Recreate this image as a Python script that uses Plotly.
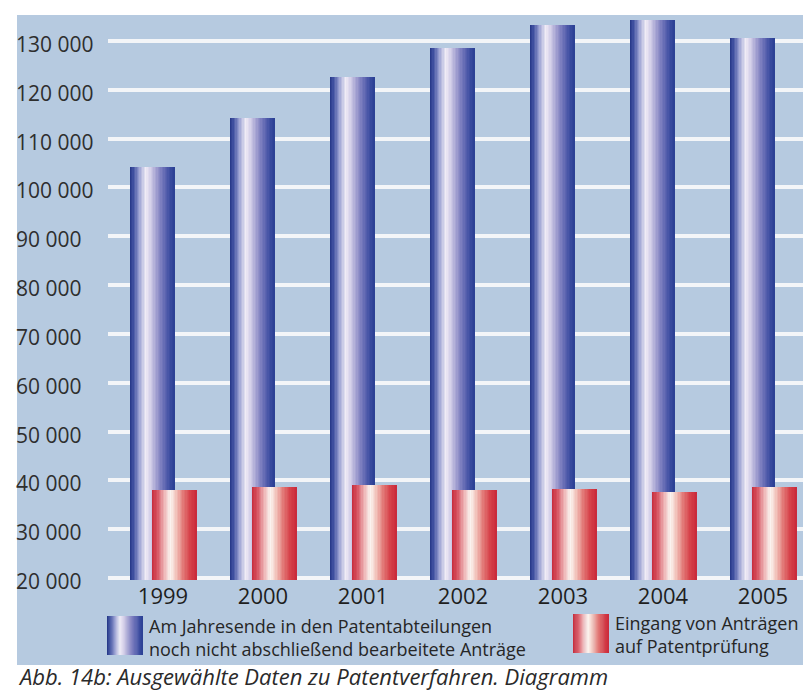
import plotly.graph_objects as go

# Data
years = [1999, 2000, 2001, 2002, 2003, 2004, 2005]
offene_antraege = [104100, 114300, 122700, 128500, 133300, 134300, 130700]
pruefungsantraege = [38000, 38600, 39000, 38000, 38200, 37600, 38700]
y_ticks = [20000, 30000, 40000, 50000, 60000, 70000, 80000, 90000,
           100000, 110000, 120000, 130000]
legend_labels = [
    "Am Jahresende in den Patentabteilungen<br>noch nicht abschließend bearbeitete Anträge",
    "Eingang von Anträgen<br>auf Patentprüfung",
]
caption = "Abb. 14b: Ausgewählte Daten zu Patentverfahren. Diagramm"

# Page geometry (pixels)
W, H = 803, 690
L, R, T, B = 108, 0, 15, 110
PW, PH = W - L - R, H - T - B

PANEL = "#b6cae0"
FONT = "Open Sans, Noto Sans, DejaVu Sans, sans-serif"

# Cylinder-style gradient stops (position, colour)
BLUE_STOPS = [(0.0, "#233585"), (0.08, "#3e4f9f"), (0.22, "#9ea4d4"),
              (0.36, "#f0ecf6"), (0.48, "#cfcae6"), (0.64, "#9190c8"),
              (0.80, "#5b63b0"), (0.93, "#34479c"), (1.0, "#2a3f93")]
RED_STOPS = [(0.0, "#c62b3a"), (0.12, "#d6505e"), (0.28, "#eeb4b6"),
             (0.42, "#fbf4f0"), (0.55, "#f2c3bb"), (0.70, "#e27a78"),
             (0.85, "#d7444b"), (1.0, "#c8283a")]


def hex_rgb(h):
    h = h.lstrip("#")
    return tuple(int(h[i:i + 2], 16) for i in (0, 2, 4))


def gradient(stops, t):
    for (p0, c0), (p1, c1) in zip(stops, stops[1:]):
        if p0 <= t <= p1:
            f = 0 if p1 == p0 else (t - p0) / (p1 - p0)
            a, b = hex_rgb(c0), hex_rgb(c1)
            r = [round(a[k] + (b[k] - a[k]) * f) for k in range(3)]
            return "rgb({},{},{})".format(*r)
    return stops[-1][1]


def px_x(p):
    return (p - L) / PW


def px_y(p):
    return (H - B - p) / PH


N = 32           # gradient slices per bar
BAR_W = 0.45     # bar width in category units
fig = go.Figure()


def add_cylinder(values, start, stops):
    step = BAR_W / N
    for i in range(N):
        t = (i + 0.5) / N
        w = step * 1.4 if i < N - 1 else step
        fig.add_trace(go.Bar(
            x=years, y=values, width=w, offset=start + i * step,
            marker=dict(color=gradient(stops, t), line=dict(width=0)),
            showlegend=False, hoverinfo="skip"))


add_cylinder(offene_antraege, -0.33, BLUE_STOPS)
add_cylinder(pruefungsantraege, -0.11, RED_STOPS)

shapes = [dict(type="rect", xref="paper", yref="paper", layer="below",
               x0=px_x(17), x1=px_x(W + 5), y0=px_y(665), y1=px_y(15),
               fillcolor=PANEL, line=dict(width=0))]


# Gradient legend swatches
def swatch(x0, y0, x1, y1, stops):
    step = (x1 - x0) / N
    for i in range(N):
        t = (i + 0.5) / N
        shapes.append(dict(type="rect", xref="paper", yref="paper", layer="above",
                           x0=px_x(x0 + i * step), x1=px_x(x0 + (i + 1.4) * step if i < N - 1 else x1),
                           y0=px_y(y1), y1=px_y(y0),
                           fillcolor=gradient(stops, t), line=dict(width=0)))


swatch(107, 616, 143, 655, BLUE_STOPS)
swatch(573, 614, 609, 653, RED_STOPS)

annotations = []
# Left-aligned value labels beside the grid lines
for v in y_ticks:
    annotations.append(dict(text=f"{v:,}".replace(",", " "), x=px_x(14), xref="paper",
                            y=v, yref="y", xanchor="left", yanchor="middle", yshift=-3,
                            showarrow=False, font=dict(family=FONT, size=21, color="#2e2e2e")))
annotations.append(dict(text=legend_labels[0], x=px_x(147), xref="paper", y=px_y(637),
                        yref="paper", xanchor="left", yanchor="middle", align="left",
                        showarrow=False, font=dict(family=FONT, size=18, color="#262626")))
annotations.append(dict(text=legend_labels[1], x=px_x(613), xref="paper", y=px_y(634),
                        yref="paper", xanchor="left", yanchor="middle", align="left",
                        showarrow=False, font=dict(family=FONT, size=18, color="#262626")))
annotations.append(dict(text="<i>" + caption + "</i>", x=px_x(16), xref="paper", y=px_y(676),
                        yref="paper", xanchor="left", yanchor="middle", align="left",
                        showarrow=False, font=dict(family=FONT, size=22, color="#2a2a2a")))

fig.update_layout(
    width=W, height=H,
    margin=dict(l=L, r=R, t=T, b=B, autoexpand=False),
    paper_bgcolor="white", plot_bgcolor=PANEL,
    barmode="overlay", bargap=0,
    showlegend=False,
    shapes=shapes, annotations=annotations,
    xaxis=dict(range=[1998.45, 1998.45 + PW / 100], tickvals=years,
               ticktext=[str(y) for y in years], showgrid=False, zeroline=False,
               showline=False, ticks="", ticklabelstandoff=1,
               tickfont=dict(family=FONT, size=22, color="#1e1e1e"), fixedrange=True),
    yaxis=dict(range=[19590, 135326], tickvals=y_ticks, showticklabels=False,
               showgrid=True, gridcolor="#f3f5f8", gridwidth=4, zeroline=False,
               showline=False, ticks="", fixedrange=True),
)

fig.write_html("out.html", config={"displayModeBar": False})
